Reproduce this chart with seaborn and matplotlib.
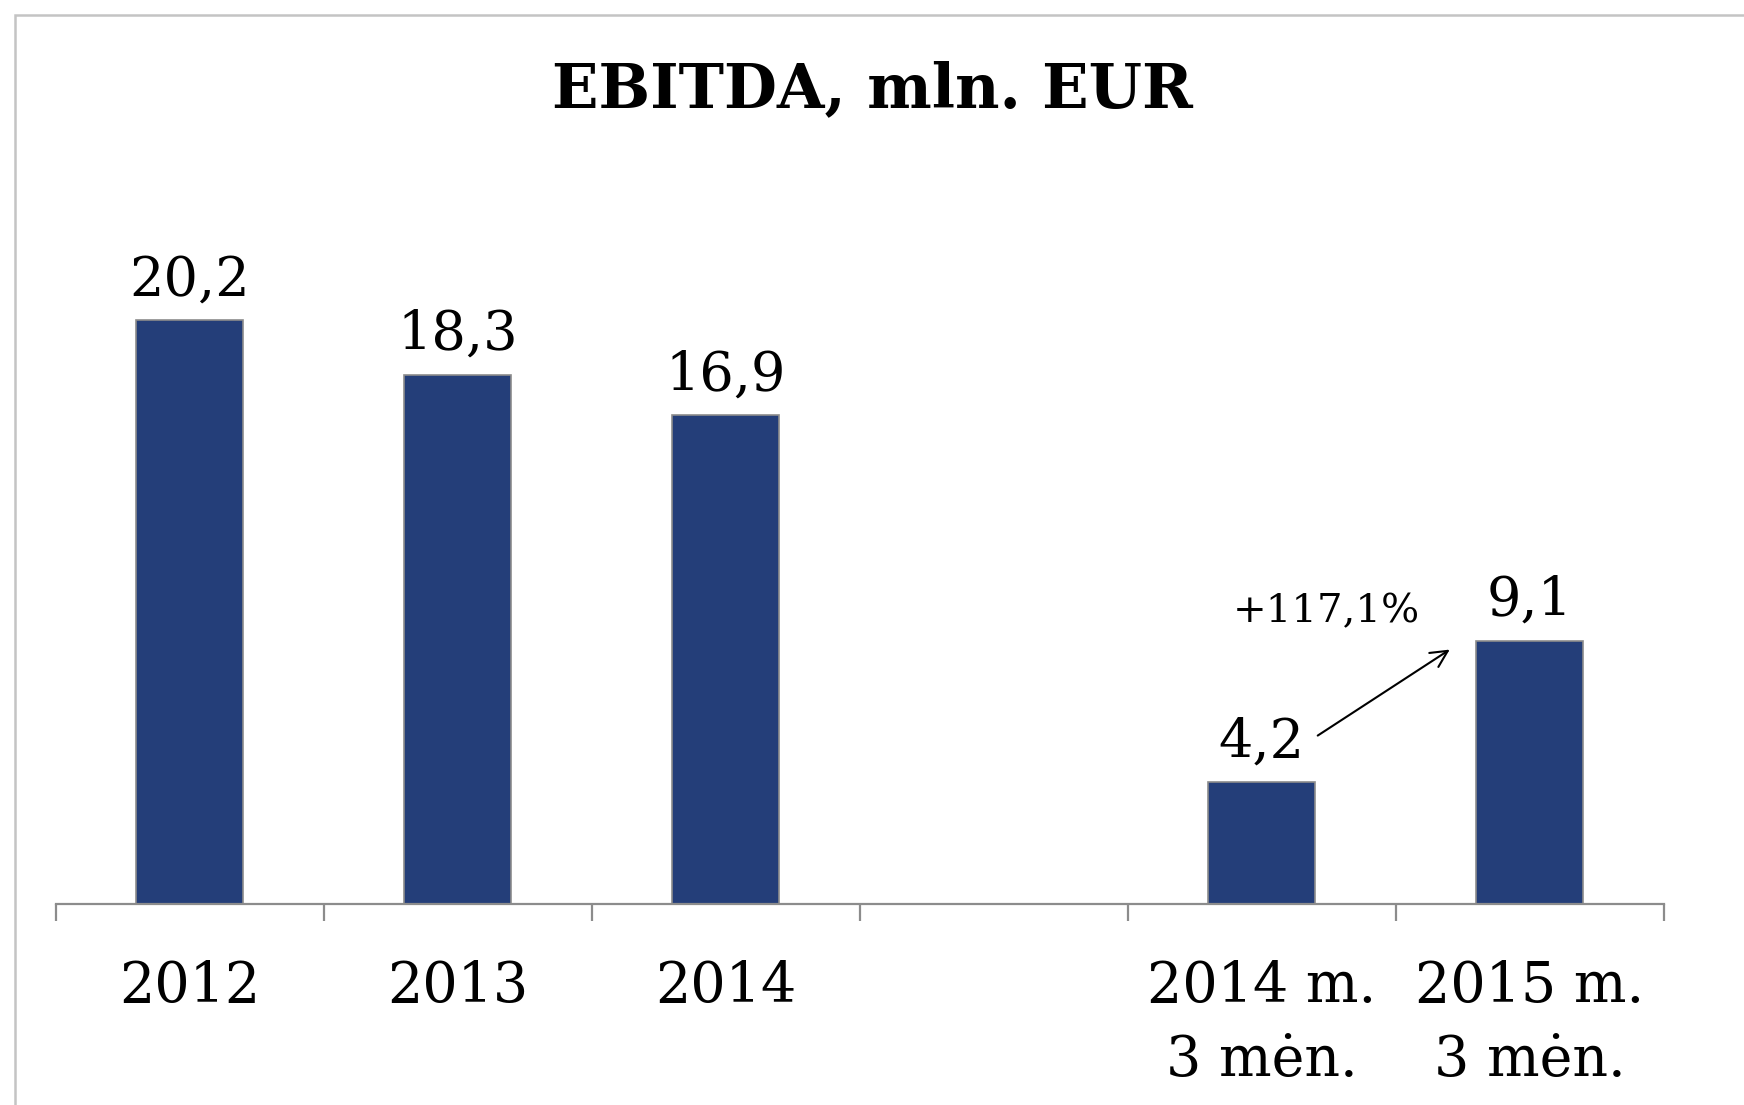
import numpy as np
import pandas as pd
import matplotlib
matplotlib.use("Agg")
import matplotlib.pyplot as plt
import seaborn as sns

# data
periods = ["2012", "2013", "2014", "2014 m.\n3 mėn.", "2015 m.\n3 mėn."]
ebitda = [20.2, 18.3, 16.9, 4.2, 9.1]
value_labels = ["20,2", "18,3", "16,9", "4,2", "9,1"]
# an empty slot separates the yearly and quarterly bars
order = ["2012", "2013", "2014", " ", "2014 m.\n3 mėn.", "2015 m.\n3 mėn."]
growth_label = "+117,1%"

sns.set_style("white")
plt.rcParams['font.family'] = ['DejaVu Serif']
plt.rcParams['text.color'] = 'black'
plt.rcParams['xtick.color'] = 'black'

df = pd.DataFrame({"period": periods, "ebitda": ebitda})

fig = plt.figure(figsize=(17.44, 11.05), dpi=100)
ax = fig.add_axes([0.032, 0.182, 0.922, 0.654])

sns.barplot(data=df, x="period", y="ebitda", order=order, color="#243E79",
            saturation=1, width=0.4, edgecolor="#8C8C8C", linewidth=1.2, ax=ax)

ax.set_xlim(-0.5, len(order) - 0.5)
ax.set_ylim(0, 25)
ax.set_xlabel("")
ax.set_ylabel("")
ax.set_yticks([])

# value labels above bars
for p, lab in zip([b for b in ax.patches if b.get_height() > 0], value_labels):
    ax.annotate(lab, (p.get_x() + p.get_width() / 2, p.get_height()),
                xytext=(0, 10), textcoords="offset points",
                ha="center", va="bottom", fontsize=39, color="black")

# growth arrow between the quarterly bars
ax.annotate("", xy=(4.71, 8.85), xytext=(4.20, 5.77),
            arrowprops=dict(arrowstyle="->", color="black", lw=1.5,
                            mutation_scale=30))
ax.text(4.24, 10.1, growth_label, ha="center", va="center", fontsize=29,
        color="black")

# axis styling
for s in ["top", "right", "left"]:
    ax.spines[s].set_visible(False)
ax.spines["bottom"].set_color("#8C8C8C")
ax.spines["bottom"].set_linewidth(1.6)
ax.set_xticks(np.arange(len(order)))
ax.set_xticklabels(order, fontsize=40, linespacing=1.45, color="black")
ax.set_xticks(np.arange(len(order) + 1) - 0.5, minor=True)
ax.tick_params(axis="x", which="major", bottom=True, length=0, pad=40)
ax.tick_params(axis="x", which="minor", bottom=True, length=12, width=1.6,
               color="#8C8C8C", direction="out")

fig.text(0.5, 0.918, "EBITDA, mln. EUR", ha="center", va="center",
         fontsize=44, fontweight="bold", color="black")

# light grey chart frame (cropped at right and bottom)
frame = plt.Rectangle((15 / 1744, -0.1), 1.2, 1 - 15 / 1105 + 0.1,
                      transform=fig.transFigure, fill=False,
                      edgecolor="#C4C4C4", linewidth=1.8)
fig.patches.append(frame)

fig.savefig("out.png", dpi=100)
plt.close(fig)
